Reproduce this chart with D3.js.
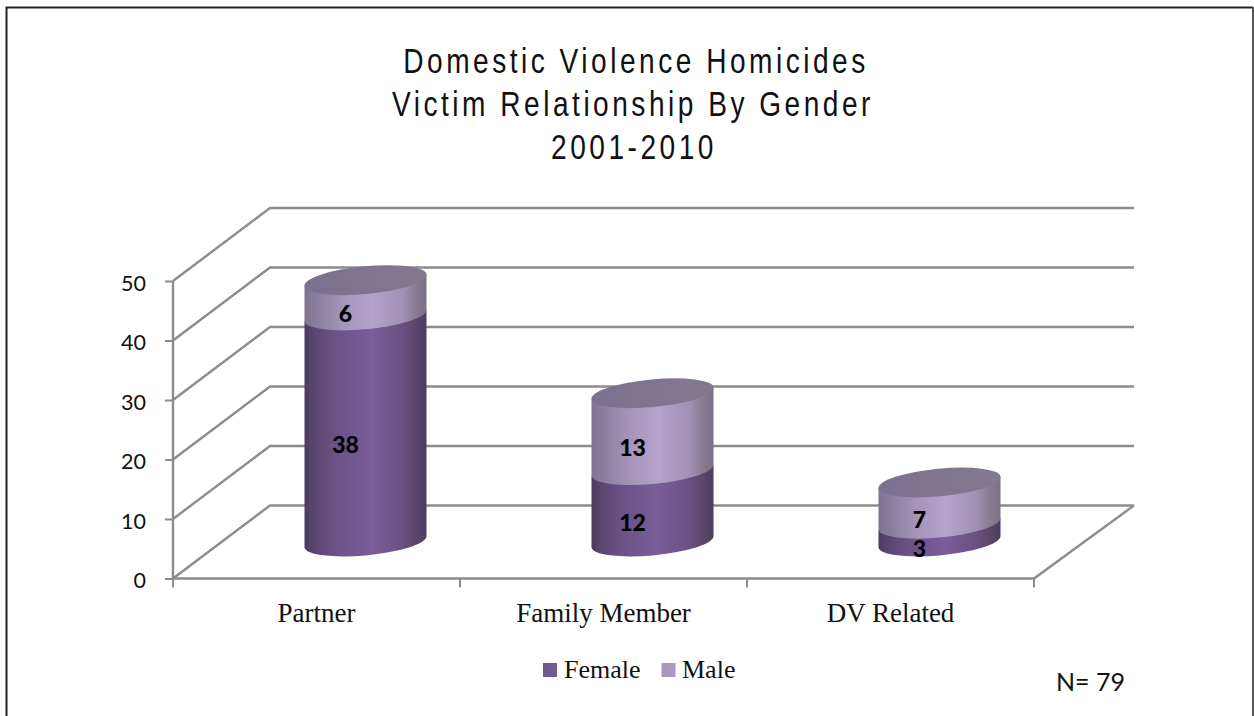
<!DOCTYPE html>
<html><head><meta charset="utf-8">
<script src="https://cdn.jsdelivr.net/npm/d3@7/dist/d3.min.js"></script>
<style>
html,body{margin:0;padding:0;background:#fff;overflow:hidden}
svg{display:block}
.domain{display:none}
</style></head><body>
<svg id="c" width="1254" height="716"></svg>
<script>
const titleLines = ["Domestic Violence Homicides","Victim Relationship By Gender","2001-2010"];
const categories = ["Partner","Family Member","DV Related"];
const female = [38,12,3];
const male = [6,13,7];
const seriesNames = ["Female","Male"];
const yTicks = [0,10,20,30,40,50];
const note = "N= 79";

const GRID="#8c8c8c";
const svg=d3.select("#c");
const W=1254,H=716;
const dx=97,dy=73;               // depth of the 3-D floor
const x=d3.scaleBand().domain(categories).range([173,1034]);
const y=d3.scaleLinear().domain([0,50]).range([578.5,281]);

// frame
svg.append("path").attr("d",`M6.5,${H} V7.5 H1253`).attr("fill","none").attr("stroke","#222").attr("stroke-width",2);
svg.append("line").attr("x1",1253).attr("x2",1253).attr("y1",7).attr("y2",H).attr("stroke","#555").attr("stroke-width",2);

// gradients
const defs=svg.append("defs");
function grad(id,stops){
  const g=defs.append("linearGradient").attr("id",id).attr("x1",0).attr("x2",1).attr("y1",0).attr("y2",0);
  stops.forEach(s=>g.append("stop").attr("offset",s[0]).attr("stop-color",s[1]));
}
grad("gf",[[0,"#4a3b5f"],[0.08,"#594670"],[0.25,"#6b5287"],[0.55,"#7b5d98"],[0.8,"#695183"],[0.95,"#544366"],[1,"#4b3c60"]]);
grad("gm",[[0,"#7d7390"],[0.1,"#8a7e9c"],[0.3,"#a394b8"],[0.55,"#b4a3ca"],[0.8,"#a092b4"],[0.95,"#817689"],[1,"#7a7088"]]);
grad("gt",[[0,"#7b7190"],[1,"#83798f"]]);
grad("lf",[[0,"#6e5689"],[1,"#775c94"]]);
grad("lm",[[0,"#a696bc"],[1,"#ab9bc0"]]);

// grid
const g=svg.append("g").attr("fill","none").attr("stroke",GRID).attr("stroke-width",2.4);
yTicks.forEach(t=>{
  g.append("path").attr("d",`M173,${y(t)} L${173+dx},${y(t)-dy} H1134`);
});
g.append("path").attr("d",`M173,${y(0)} H1034 L1134,${y(0)-dy}`);
g.append("line").attr("x1",173).attr("x2",173).attr("y1",y(50)).attr("y2",y(0));

// axes
const ya=svg.append("g").attr("transform","translate(173,0)")
  .call(d3.axisLeft(y).tickValues(yTicks).tickSize(8).tickPadding(19));
ya.selectAll("line").attr("stroke",GRID).attr("stroke-width",2);
ya.selectAll("text").attr("font-family","Lato").attr("font-size",21.5).attr("fill","#111").attr("dy","0.42em");
const xa=svg.append("g").attr("transform",`translate(0,${y(0)})`)
  .call(d3.axisBottom(x).tickSize(0).tickPadding(24));
xa.selectAll("text").attr("font-family","Liberation Serif").attr("font-size",27).attr("fill","#111");
const edges=[...categories.map(c=>x(c)),x.range()[1]];
svg.append("g").selectAll("line").data(edges).join("line")
  .attr("x1",d=>d).attr("x2",d=>d).attr("y1",y(0)).attr("y2",y(0)+9)
  .attr("stroke",GRID).attr("stroke-width",2);

// cylinders
const A=61.3,B=13.9,ROT=-5.4,HX=61,HD=5.5;   // tilted ellipse and its tangent offsets
const ox=49,oy=dy/2;
function seg(cx,c0,c1){
  return `M${cx-HX},${c0+HD} A${A},${B} ${ROT} 0 0 ${cx+HX},${c0-HD} L${cx+HX},${c1-HD} L${cx-HX},${c1+HD} Z`;
}
const bars=svg.append("g");
categories.forEach((c,i)=>{
  const cx=x(c)+x.bandwidth()/2+ox;
  const cy=v=>y(v)-oy;
  bars.append("path").attr("d",seg(cx,cy(0),cy(female[i]))).attr("fill","url(#gf)");
  bars.append("path").attr("d",seg(cx,cy(female[i]),cy(female[i]+male[i]))).attr("fill","url(#gm)");
  bars.append("ellipse").attr("cx",0).attr("cy",0).attr("rx",A).attr("ry",B)
    .attr("transform",`translate(${cx},${cy(female[i]+male[i])}) rotate(${ROT})`).attr("fill","url(#gt)");
  const lx=x(c)+x.bandwidth()/2+29;
  [[female[i],female[i]/2],[male[i],female[i]+male[i]/2]].forEach(([v,m])=>{
    bars.append("text").attr("x",lx).attr("y",y(m)-20.5).attr("dy","0.36em").attr("text-anchor","middle")
      .attr("font-family","Lato").attr("font-weight",900).attr("font-size",23).attr("fill","#000").text(v);
  });
});

// title
svg.append("g").selectAll("text").data(titleLines).join("text")
  .attr("text-anchor","middle")
  .attr("transform",(d,i)=>`translate(${[636,633,634][i]},${72.5+i*43.2}) scale(0.78,1)`)
  .attr("font-family","Liberation Sans").attr("font-size",36).attr("letter-spacing",4.5).attr("fill","#111")
  .text(d=>d);

// legend
const lg=svg.append("g");
[[543,"url(#lf)",564],[661.5,"url(#lm)",682]].forEach((p,i)=>{
  lg.append("rect").attr("x",p[0]).attr("y",663).attr("width",14).attr("height",14).attr("fill",p[1]);
  lg.append("text").attr("x",p[2]).attr("y",678).attr("font-family","Liberation Serif").attr("font-size",26).attr("fill","#111").text(seriesNames[i]);
});

// note
svg.append("text").attr("x",1056).attr("y",691).attr("font-family","Lato").attr("font-size",25).attr("fill","#111").text(note);
</script>
</body></html>
